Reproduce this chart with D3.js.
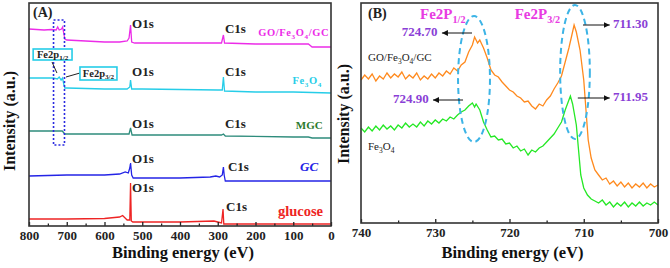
<!DOCTYPE html>
<html>
<head>
<meta charset="utf-8">
<script src="https://cdn.jsdelivr.net/npm/d3@7"></script>
<style>
  body { margin: 0; background: #fff; }
  svg { display: block; font-family: "Liberation Serif", "Times New Roman", serif; }
</style>
</head>
<body>
<div id="chart"></div>
<script>
// ---- panel A: survey spectra [binding energy eV, intensity a.u.] ----
const surveyGOFeGC = [[800,197],[760,196],[740,196.5],[728,196],[724,199],[720,196],[714,197],[711,199],[708,193],[705,187],[700,186],[650,185],[600,184],[560,184],[540,185],[535,188],[531,201],[528,184],[520,183],[400,183],[300,183],[290,183],[285,191],[282,183],[200,182],[100,182],[60,182],[50,179],[0,179]];
const surveyFe3O4 = [[800,148],[760,148],[735,148],[725,147],[720,149],[715,146],[711,148],[708,142],[705,138],[700,138],[600,137],[540,137],[533,139],[531,146],[528,137],[500,137],[300,136],[288,136],[285,149],[282,135],[200,134],[100,134],[0,133]];
const surveyMGC = [[800,95],[720,95],[712,95],[705,92],[700,92],[600,92],[535,92],[531,98],[527,91],[400,91],[290,91],[285,92],[280,90],[100,89],[60,89],[50,88],[0,88]];
const surveyGC = [[800,50],[700,51],[600,51],[560,52],[545,54],[537,53],[533,58],[531,63],[528,51],[524,48],[500,48],[400,48],[320,49],[305,50],[295,49],[288,51],[285,59],[283,51],[280,45],[200,45],[100,45],[0,45]];
const surveyGlucose = [[800,7],[700,7],[600,7.5],[560,9],[552,10.5],[540,6],[533,6],[531,43],[529,5],[525,4],[500,4],[400,4],[310,5],[300,4],[290,3],[286,17],[284,2],[200,2],[100,2],[0,2]];

const surveyTicks = [800, 700, 600, 500, 400, 300, 200, 100, 0];

// ---- panel B: Fe2p high resolution [eV, intensity a.u.] ----
const fe2pGOFeGC = [[740,143],[739.5,148],[739,144],[738.5,149],[738,142],[737.5,147],[737,144],[736.5,150],[736,145],[735.5,149],[735,146],[734.5,151],[734,144],[733.5,148],[733,145],[732.5,150],[732,143],[731.5,147],[731,144],[730.5,149],[730,145],[729.5,150],[729,147],[728.5,152],[728,149],[727.5,155],[727,152],[726.5,158],[726,161],[725.5,171],[725,178],[724.7,186],[724.3,180],[724,183],[723.5,175],[723,165],[722.5,153],[722,148],[721.5,146],[721,141],[720.5,137],[720,133],[719.5,131],[719,127],[718.5,125],[718,121],[717.5,122],[717,117],[716.5,114],[716,119],[715.5,117],[715,123],[714.5,127],[714,134],[713.5,140],[713,147],[712.5,161],[712,175],[711.6,188],[711.3,198],[711,191],[710.5,173],[710,143],[709.7,113],[709.4,83],[709,65],[708.5,53],[708,48],[707.5,43],[707,45],[706.5,39],[706,42],[705.5,37],[705,41],[704.5,36],[704,40],[703.5,35],[703,39],[702.5,36],[702,40],[701.5,35],[701,39],[700.5,36],[700,38]];
const fe2pFe3O4 = [[740,95],[739.5,91],[739,96],[738.5,92],[738,97],[737.5,93],[737,98],[736.5,94],[736,97],[735.5,93],[735,98],[734.5,95],[734,100],[733.5,96],[733,99],[732.5,96],[732,101],[731.5,97],[731,102],[730.5,99],[730,103],[729.5,100],[729,104],[728.5,102],[728,106],[727.5,104],[727,108],[726.5,111],[726,113],[725.5,117],[725,120],[724.7,116],[724.5,119],[724,113],[723.5,101],[723,93],[722.5,86],[722,87],[721.5,83],[721,84],[720.5,79],[720,80],[719.5,75],[719,77],[718.5,72],[718,74],[717.5,68],[717,73],[716.5,71],[716,75],[715.5,77],[715,81],[714.5,85],[714,89],[713.5,95],[713,101],[712.5,113],[712,123],[711.8,127],[711.5,119],[711,98],[710.7,73],[710.4,48],[710,35],[709.5,28],[709,24],[708.5,22],[708,20],[707.5,23],[707,18],[706.5,21],[706,16],[705.5,20],[705,17],[704.5,21],[704,16],[703.5,20],[703,17],[702.5,21],[702,17],[701.5,20],[701,18],[700.5,21],[700,18]];

const fe2pTicks = [740, 730, 720, 710, 700];

const W = 670, H = 268;
const serif = "'Liberation Serif', 'Times New Roman', serif";

const svg = d3.select("#chart").append("svg")
  .attr("width", W)
  .attr("height", H);

const defs = svg.append("defs");
defs.append("marker")
  .attr("id", "arr")
  .attr("viewBox", "0 0 6 6")
  .attr("refX", 6).attr("refY", 3)
  .attr("markerWidth", 6).attr("markerHeight", 6)
  .attr("markerUnits", "userSpaceOnUse")
  .attr("orient", "auto")
  .append("path").attr("d", "M0,0 L6,3 L0,6 Z").attr("fill", "#111");

// text with sub-scripts: parts = [[string, isSub], ...]
function rich(sel, parts, size) {
  let shift = 0;
  parts.forEach(([s, sub]) => {
    const target = sub ? size * 0.25 : 0;
    sel.append("tspan")
      .attr("dy", target - shift)
      .attr("font-size", sub ? size * 0.68 : size)
      .text(s);
    shift = target;
  });
  return sel;
}

function drawAxes(g, x, y, ticks, minor) {
  const [x0, x1] = x.range();
  const [y0, y1] = y.range();
  g.append("g")
    .attr("transform", `translate(0,${y0})`)
    .call(d3.axisBottom(x).tickValues(minor).tickSize(-2.5).tickFormat(""))
    .call(a => a.select(".domain").remove())
    .selectAll("line").attr("stroke", "#222").attr("stroke-width", 1.3);
  g.append("g")
    .attr("transform", `translate(0,${y0})`)
    .call(d3.axisBottom(x).tickValues(ticks).tickSize(-4).tickPadding(5).tickFormat(d3.format("d")))
    .call(a => a.select(".domain").remove())
    .call(a => a.selectAll("line").attr("stroke", "#222").attr("stroke-width", 1.3))
    .selectAll("text")
    .attr("font-family", serif)
    .attr("font-weight", "bold")
    .attr("font-size", 13)
    .attr("fill", "#222");
  g.append("rect")
    .attr("x", x0).attr("y", y1)
    .attr("width", x1 - x0).attr("height", y0 - y1)
    .attr("fill", "none")
    .attr("stroke", "#333")
    .attr("stroke-width", 1.6);
  g.append("text")
    .attr("x", (x0 + x1) / 2 + 3)
    .attr("y", 258)
    .attr("text-anchor", "middle")
    .attr("font-weight", "bold")
    .attr("font-size", 16.5)
    .attr("fill", "#111")
    .text("Binding energy (eV)");
}

function yTitle(g, cx, cy) {
  g.append("text")
    .attr("transform", `translate(${cx},${cy}) rotate(-90)`)
    .attr("text-anchor", "middle")
    .attr("dominant-baseline", "middle")
    .attr("font-weight", "bold")
    .attr("font-size", 16)
    .attr("fill", "#111")
    .text("Intensity (a.u.)");
}

// ================= Panel A =================
const xA = d3.scaleLinear().domain([800, 0]).range([29, 331]);
const yA = d3.scaleLinear().domain([0, 223]).range([226, 3]);
const gA = svg.append("g");

const lineA = d3.line().x(d => xA(d[0])).y(d => yA(d[1]));
const seriesA = [
  { data: surveyGOFeGC, color: "#ec2ce8" },
  { data: surveyFe3O4, color: "#26cde8" },
  { data: surveyMGC, color: "#2e8c7c" },
  { data: surveyGC, color: "#2424e6" },
  { data: surveyGlucose, color: "#ee2424" }
];
gA.selectAll(".survey")
  .data(seriesA)
  .join("path")
  .attr("class", "survey")
  .attr("fill", "none")
  .attr("stroke", d => d.color)
  .attr("stroke-width", 1.3)
  .attr("d", d => lineA(d.data));

drawAxes(gA, xA, yA, surveyTicks, d3.range(750, 0, -100));
yTitle(gA, 11, 121);

// dotted Fe2p box
gA.append("rect")
  .attr("x", xA(735)).attr("y", yA(206))
  .attr("width", xA(706) - xA(735)).attr("height", yA(81) - yA(206))
  .attr("fill", "none")
  .attr("stroke", "#2a2ae0")
  .attr("stroke-width", 1.6)
  .attr("stroke-dasharray", "2,2");

// O1s / C1s labels [eV, intensity]
const peakLabelsA = [
  ["O1s", 527, 201], ["C1s", 281, 196],
  ["O1s", 527, 153], ["C1s", 281, 153],
  ["O1s", 527, 101], ["C1s", 281, 101],
  ["O1s", 527, 66], ["C1s", 273, 58],
  ["O1s", 527, 37], ["C1s", 278, 18]
];
gA.selectAll(".peak")
  .data(peakLabelsA)
  .join("text")
  .attr("class", "peak")
  .attr("x", d => xA(d[1]))
  .attr("y", d => yA(d[2]))
  .attr("dominant-baseline", "middle")
  .attr("font-weight", "bold")
  .attr("font-size", 13)
  .attr("fill", "#222")
  .text(d => d[0]);

// sample names
const nameStyle = (t, color, size) => t.attr("text-anchor", "end")
  .attr("dominant-baseline", "middle")
  .attr("font-weight", "bold")
  .attr("font-size", size)
  .attr("fill", color);

rich(nameStyle(gA.append("text").attr("x", xA(5)).attr("y", yA(192)), "#ec2ce8", 10.5)
  .attr("letter-spacing", 0.6),
  [["GO/Fe", 0], ["3", 1], ["O", 0], ["4", 1], ["/GC", 0]], 10.5);
rich(nameStyle(gA.append("text").attr("x", xA(24)).attr("y", yA(144)), "#26cde8", 10.5)
  .attr("letter-spacing", 0.6),
  [["Fe", 0], ["3", 1], ["O", 0], ["4", 1]], 10.5);
nameStyle(gA.append("text").attr("x", xA(22)).attr("y", yA(100)), "#2b7a2b", 11).text("MGC");
nameStyle(gA.append("text").attr("x", xA(34)).attr("y", yA(58)), "#2424e6", 13)
  .attr("font-style", "italic").text("GC");
nameStyle(gA.append("text").attr("x", xA(21)).attr("y", yA(13)), "#ee2424", 14.5).text("glucose");

gA.append("text")
  .attr("x", 33).attr("y", 14)
  .attr("dominant-baseline", "middle")
  .attr("font-weight", "bold")
  .attr("font-size", 14)
  .attr("fill", "#222")
  .text("(A)");

// Fe2p call-outs [left eV, right eV, top, bottom, label parts]
const callouts = [
  { box: [789, 686, 177, 166], lead: [[739, 164], [726, 153]], parts: [["Fe2", 0], ["p", 0], ["1/2", 1]] },
  { box: [665, 567, 159, 146], lead: [[702, 149], [665, 153]], parts: [["Fe2", 0], ["p", 0], ["3/2", 1]] }
];
callouts.forEach(c => {
  const [l, r, t, b] = c.box;
  gA.append("line")
    .attr("x1", xA(c.lead[0][0])).attr("y1", yA(c.lead[0][1]))
    .attr("x2", xA(c.lead[1][0])).attr("y2", yA(c.lead[1][1]))
    .attr("stroke", "#222").attr("stroke-width", 1);
  gA.append("rect")
    .attr("x", xA(l)).attr("y", yA(t))
    .attr("width", xA(r) - xA(l)).attr("height", yA(b) - yA(t))
    .attr("fill", "#fff")
    .attr("stroke", "#26cde8")
    .attr("stroke-width", 1.6);
  rich(gA.append("text")
    .attr("x", (xA(l) + xA(r)) / 2)
    .attr("y", (yA(t) + yA(b)) / 2 + 3)
    .attr("text-anchor", "middle")
    .attr("font-weight", "bold")
    .attr("fill", "#222"), c.parts, 10.5);
});

// ================= Panel B =================
const xB = d3.scaleLinear().domain([740, 700]).range([361, 658]);
const yB = d3.scaleLinear().domain([0, 220]).range([223, 3]);
const gB = svg.append("g");

const lineB = d3.line().x(d => xB(d[0])).y(d => yB(d[1]));
gB.selectAll(".fe2p")
  .data([{ data: fe2pGOFeGC, color: "#ff8a1e" }, { data: fe2pFe3O4, color: "#25e825" }])
  .join("path")
  .attr("class", "fe2p")
  .attr("fill", "none")
  .attr("stroke", d => d.color)
  .attr("stroke-width", 1.3)
  .attr("d", d => lineB(d.data));

// dashed ellipses around the two Fe2p peaks [eV, intensity, half-width eV, half-height]
const ellipses = [[724.78, 144, 2.15, 63], [711.18, 151, 2.0, 67]];
gB.selectAll(".ell")
  .data(ellipses)
  .join("ellipse")
  .attr("class", "ell")
  .attr("cx", d => xB(d[0]))
  .attr("cy", d => yB(d[1]))
  .attr("rx", d => xB(d[0] - d[2]) - xB(d[0]))
  .attr("ry", d => yB(d[1] - d[3]) - yB(d[1]))
  .attr("fill", "none")
  .attr("stroke", "#3db4e6")
  .attr("stroke-width", 2)
  .attr("stroke-dasharray", "6,4");

drawAxes(gB, xB, yB, fe2pTicks, [735, 725, 715, 705]);
yTitle(gB, 345, 114);

gB.append("text")
  .attr("x", 368).attr("y", 15)
  .attr("dominant-baseline", "middle")
  .attr("font-weight", "bold")
  .attr("font-size", 14)
  .attr("fill", "#222")
  .text("(B)");

// peak labels
const fe2pLabels = [
  { eV: 732.05, h: 209, parts: [["Fe2P", 0], ["1/2", 1]] },
  { eV: 719.3, h: 209, parts: [["Fe2P", 0], ["3/2", 1]] }
];
fe2pLabels.forEach(p => {
  rich(gB.append("text")
    .attr("x", xB(p.eV)).attr("y", yB(p.h) + 5)
    .attr("font-weight", "bold")
    .attr("fill", "#e83be2"), p.parts, 15);
});

// binding energy values with arrows [text, text eV, intensity, arrow from eV, arrow to eV]
const bePeaks = [
  ["724.70", 734.5, 190, 725.05, 729.1],
  ["711.30", 706.06, 198, 710.1, 706.5],
  ["724.90", 735.7, 123, 726.26, 730.3],
  ["711.95", 706.06, 125, 710.8, 706.5]
];
gB.selectAll(".bearrow")
  .data(bePeaks)
  .join("line")
  .attr("class", "bearrow")
  .attr("x1", d => xB(d[3])).attr("y1", d => yB(d[2]))
  .attr("x2", d => xB(d[4])).attr("y2", d => yB(d[2]))
  .attr("stroke", "#111").attr("stroke-width", 1)
  .attr("marker-end", "url(#arr)");
gB.selectAll(".beval")
  .data(bePeaks)
  .join("text")
  .attr("class", "beval")
  .attr("x", d => xB(d[1])).attr("y", d => yB(d[2]))
  .attr("dominant-baseline", "middle")
  .attr("font-weight", "bold")
  .attr("font-size", 13)
  .attr("fill", "#8a3fd6")
  .text(d => d[0]);

// sample names in B
rich(gB.append("text").attr("x", xB(739.06)).attr("y", yB(166) + 4).attr("fill", "#222"),
  [["GO/Fe", 0], ["3", 1], ["O", 0], ["4", 1], ["/GC", 0]], 11);
rich(gB.append("text").attr("x", xB(739.06)).attr("y", yB(77) + 4).attr("fill", "#222"),
  [["Fe", 0], ["3", 1], ["O", 0], ["4", 1]], 11);
</script>
</body>
</html>
